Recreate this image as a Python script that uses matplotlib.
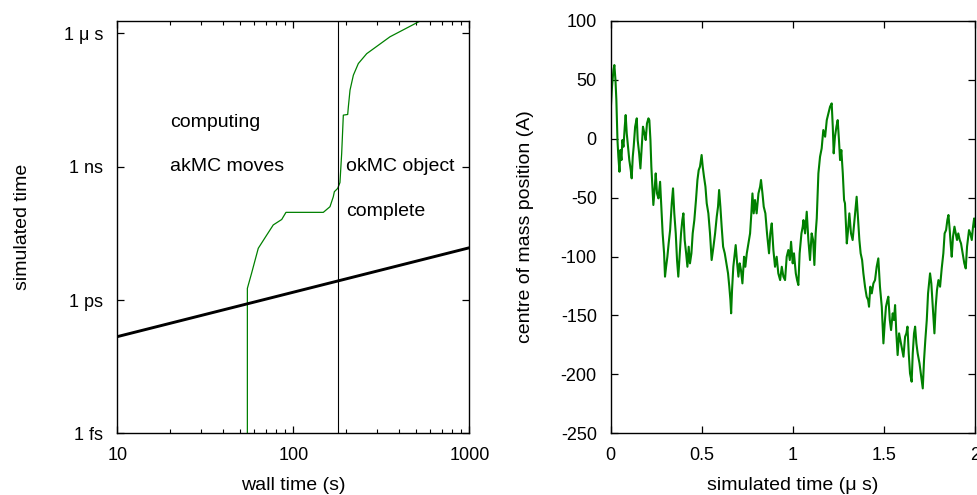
import matplotlib
matplotlib.use("Agg")
import matplotlib.pyplot as plt
from matplotlib.ticker import FixedLocator, NullLocator, LogLocator, FuncFormatter

plt.rcParams["font.family"] = ["Liberation Sans", "DejaVu Sans"]
plt.rcParams["font.size"] = 13
plt.rcParams["axes.unicode_minus"] = False

GREEN = "#008000"
LABEL_SIZE = 14

# left panel: simulated time vs wall time
wall_time = [54.8, 54.8, 57.9, 63.2, 70.6, 76.9, 85.9, 90.8, 148, 161.5, 168.6, 171,
             178.6, 184, 188.2, 192.3, 203.6, 205.4, 209.9, 219.3, 234, 261, 354, 529, 560]
sim_time = [1e-16, 1.83e-12, 4e-12, 1.46e-11, 2.9e-11, 4.9e-11, 6.5e-11, 9.4e-11, 9.4e-11,
            1.26e-10, 2.1e-10, 2.74e-10, 3.25e-10, 4.4e-10, 2e-9, 1.45e-8, 1.5e-8, 2.24e-8,
            5.3e-8, 1.15e-7, 2.1e-7, 3.5e-7, 8.4e-7, 1.93e-6, 2.3e-6]

md_wall = [10, 1000]
md_sim = [1.5e-13, 1.5e-11]

okmc_start = 180

y_ticks = [1e-15, 1e-12, 1e-9, 1e-6]
y_tick_labels = ["1 fs", "1 ps", "1 ns", "1 \u03bc s"]

labels_text = ["computing", "akMC moves", "okMC object", "complete"]
labels_x = [20, 20, 200, 200]
labels_y = [1e-8, 1e-9, 1e-9, 1e-10]

# right panel: centre of mass position vs simulated time (us)
com_t = [0.000, 0.007, 0.015, 0.020, 0.026, 0.031, 0.037, 0.042, 0.048, 0.053, 0.059, 0.064,
         0.070, 0.077, 0.082, 0.088, 0.095, 0.102, 0.110, 0.115, 0.121, 0.126, 0.134, 0.143,
         0.148, 0.156, 0.163, 0.170, 0.177, 0.185, 0.192, 0.199, 0.207, 0.212, 0.218, 0.223,
         0.229, 0.234, 0.242, 0.247, 0.254, 0.262, 0.271, 0.278, 0.285, 0.293, 0.298, 0.304,
         0.311, 0.318, 0.326, 0.335, 0.342, 0.349, 0.357, 0.364, 0.371, 0.379, 0.386, 0.393,
         0.399, 0.406, 0.414, 0.421, 0.428, 0.435, 0.443, 0.450, 0.459, 0.468, 0.476, 0.483,
         0.490, 0.499, 0.505, 0.512, 0.520, 0.527, 0.536, 0.545, 0.554, 0.564, 0.573, 0.582,
         0.589, 0.595, 0.602, 0.609, 0.617, 0.626, 0.635, 0.644, 0.651, 0.657, 0.661, 0.666,
         0.673, 0.679, 0.686, 0.694, 0.701, 0.708, 0.715, 0.723, 0.732, 0.739, 0.747, 0.756,
         0.765, 0.772, 0.778, 0.785, 0.792, 0.801, 0.811, 0.820, 0.825, 0.833, 0.840, 0.849,
         0.858, 0.869, 0.876, 0.884, 0.893, 0.902, 0.911, 0.920, 0.930, 0.939, 0.948, 0.957,
         0.966, 0.975, 0.983, 0.990, 0.999, 1.006, 1.016, 1.023, 1.030, 1.037, 1.047, 1.054,
         1.058, 1.067, 1.076, 1.085, 1.094, 1.103, 1.111, 1.118, 1.125, 1.131, 1.140, 1.149,
         1.158, 1.167, 1.177, 1.186, 1.195, 1.204, 1.213, 1.219, 1.224, 1.231, 1.239, 1.246,
         1.253, 1.259, 1.266, 1.274, 1.281, 1.286, 1.296, 1.303, 1.310, 1.319, 1.328, 1.338,
         1.345, 1.350, 1.358, 1.365, 1.372, 1.380, 1.387, 1.396, 1.405, 1.413, 1.418, 1.425,
         1.433, 1.442, 1.451, 1.460, 1.469, 1.478, 1.488, 1.493, 1.497, 1.504, 1.511, 1.519,
         1.524, 1.532, 1.539, 1.548, 1.555, 1.561, 1.568, 1.575, 1.583, 1.590, 1.597, 1.607,
         1.616, 1.623, 1.629, 1.636, 1.643, 1.652, 1.658, 1.665, 1.671, 1.678, 1.685, 1.695,
         1.702, 1.707, 1.713, 1.720, 1.727, 1.735, 1.742, 1.749, 1.753, 1.760, 1.768, 1.777,
         1.784, 1.791, 1.799, 1.808, 1.817, 1.826, 1.833, 1.841, 1.848, 1.854, 1.861, 1.866,
         1.872, 1.879, 1.887, 1.894, 1.901, 1.908, 1.916, 1.923, 1.932, 1.941, 1.949, 1.956,
         1.967, 1.974, 1.982, 1.989, 1.995, 2.000]
com_pos = [24.2, 44.0, 58.2, 62.4, 49.7, 32.7, -1.2, -15.4, -28.1, -9.7, -18.2, -1.2,
           -6.9, 10.1, 20.0, 4.4, -6.9, -18.2, -26.7, -33.7, -15.4, -6.9, 10.1, 17.2,
           -1.2, -12.5, -25.3, -6.9, 10.1, 4.4, -1.2, 12.9, 17.2, 15.7, -1.2, -23.8,
           -40.8, -56.3, -40.8, -29.5, -46.5, -50.7, -36.6, -57.8, -80.4, -97.3, -117.1, -108.7,
           -100.2, -88.9, -77.6, -54.9, -42.2, -63.4, -80.4, -103.0, -117.1, -97.3, -80.4, -69.1,
           -63.4, -86.0, -97.3, -108.7, -91.7, -105.8, -97.3, -80.4, -69.1, -52.1, -35.1, -26.7,
           -23.8, -13.9, -23.8, -32.3, -40.8, -54.9, -63.4, -80.4, -103.0, -91.7, -80.4, -66.2,
           -57.8, -43.6, -57.8, -74.7, -91.7, -97.3, -105.8, -114.3, -125.6, -136.9, -148.2, -128.5,
           -108.7, -100.2, -90.3, -105.8, -117.1, -105.8, -111.5, -122.8, -100.2, -108.7, -97.3, -88.9,
           -80.4, -63.4, -46.5, -63.4, -52.1, -63.4, -46.5, -40.8, -35.1, -46.5, -57.8, -63.4,
           -80.4, -97.3, -80.4, -71.9, -94.5, -108.7, -100.2, -114.3, -120.0, -108.7, -117.1, -120.0,
           -100.2, -94.5, -103.0, -87.5, -105.8, -97.3, -114.3, -120.0, -124.2, -97.3, -80.4, -74.7,
           -69.1, -80.4, -62.0, -86.0, -103.0, -80.4, -86.0, -107.2, -80.4, -67.7, -29.5, -15.4,
           -8.3, 7.3, 1.6, 15.7, 21.4, 27.1, 29.9, 10.1, -12.5, 1.6, 10.1, 15.7,
           -1.2, -18.2, -9.7, -29.5, -52.1, -54.9, -88.9, -77.6, -63.4, -80.4, -86.0, -69.1,
           -57.8, -49.3, -69.1, -86.0, -97.3, -103.0, -114.3, -125.6, -134.1, -136.9, -142.6, -125.6,
           -131.3, -122.8, -120.0, -108.7, -101.6, -125.6, -142.6, -159.5, -173.7, -156.7, -142.6, -136.9,
           -134.1, -153.9, -162.4, -148.2, -153.9, -141.2, -165.2, -183.6, -165.2, -170.9, -176.5, -185.0,
           -168.0, -165.2, -159.5, -182.2, -199.1, -206.2, -182.2, -165.2, -159.5, -173.7, -182.2, -190.6,
           -199.1, -204.8, -211.9, -187.8, -170.9, -153.9, -131.3, -120.0, -114.3, -122.8, -142.6, -165.2,
           -142.6, -128.5, -120.0, -125.6, -110.1, -97.3, -80.4, -77.6, -69.1, -64.8, -77.6, -88.9,
           -100.2, -83.2, -74.7, -80.4, -86.0, -80.4, -86.0, -88.9, -97.3, -105.8, -110.1, -91.7,
           -77.6, -80.4, -86.0, -74.7, -67.7, -74.7]

x_ticks_right = [0, 0.5, 1, 1.5, 2]
y_ticks_right = [-250, -200, -150, -100, -50, 0, 50, 100]


def style_axes(ax):
    for s in ax.spines.values():
        s.set_linewidth(1.0)
    ax.tick_params(which="both", direction="in", top=True, right=True, pad=10)
    ax.tick_params(which="major", length=5, width=0.9)
    ax.tick_params(which="minor", length=3, width=0.8)


def main():
    fig = plt.figure(figsize=(9.77, 4.95), dpi=100)
    ax1 = fig.add_axes([0.1201, 0.1246, 0.3603, 0.8335])
    ax2 = fig.add_axes([0.6251, 0.1246, 0.3729, 0.8335])

    # left
    ax1.plot(wall_time, sim_time, color=GREEN, lw=0.9)
    ax1.plot(md_wall, md_sim, color="black", lw=2.1)
    ax1.axvline(okmc_start, color="black", lw=0.8)
    ax1.set_xscale("log")
    ax1.set_yscale("log")
    ax1.set_xlim(10, 1000)
    ax1.set_ylim(1e-15, 1.93e-6)
    ax1.yaxis.set_major_locator(FixedLocator(y_ticks))
    ax1.set_yticklabels(y_tick_labels)
    ax1.yaxis.set_minor_locator(NullLocator())
    ax1.xaxis.set_major_locator(FixedLocator([10, 100, 1000]))
    ax1.xaxis.set_minor_locator(LogLocator(base=10, subs=range(2, 10)))
    ax1.xaxis.set_major_formatter(FuncFormatter(lambda v, p: f"{v:g}"))
    ax1.xaxis.set_minor_formatter(FuncFormatter(lambda v, p: ""))
    for txt, x, y in zip(labels_text, labels_x, labels_y):
        ax1.text(x, y, txt, ha="left", va="center", fontsize=LABEL_SIZE)
    style_axes(ax1)
    ax1.set_xlabel("wall time (s)", fontsize=LABEL_SIZE)
    ax1.set_ylabel("simulated time", fontsize=LABEL_SIZE)
    ax1.xaxis.set_label_coords(0.5, -0.106)
    ax1.yaxis.set_label_coords(-0.268, 0.5)
    ax1.yaxis.label.set_va("center")

    # right
    ax2.plot(com_t, com_pos, color=GREEN, lw=1.5)
    ax2.set_xlim(0, 2)
    ax2.set_ylim(-250, 100)
    ax2.set_xticks(x_ticks_right)
    ax2.set_xticklabels([f"{v:g}" for v in x_ticks_right])
    ax2.set_yticks(y_ticks_right)
    style_axes(ax2)
    ax2.set_xlabel("simulated time (\u03bc s)", fontsize=LABEL_SIZE)
    ax2.set_ylabel("centre of mass position (A)", fontsize=LABEL_SIZE)
    ax2.xaxis.set_label_coords(0.5, -0.106)
    ax2.yaxis.set_label_coords(-0.233, 0.5)
    ax2.yaxis.label.set_va("center")

    fig.savefig("out.png", dpi=100)


if __name__ == "__main__":
    main()
